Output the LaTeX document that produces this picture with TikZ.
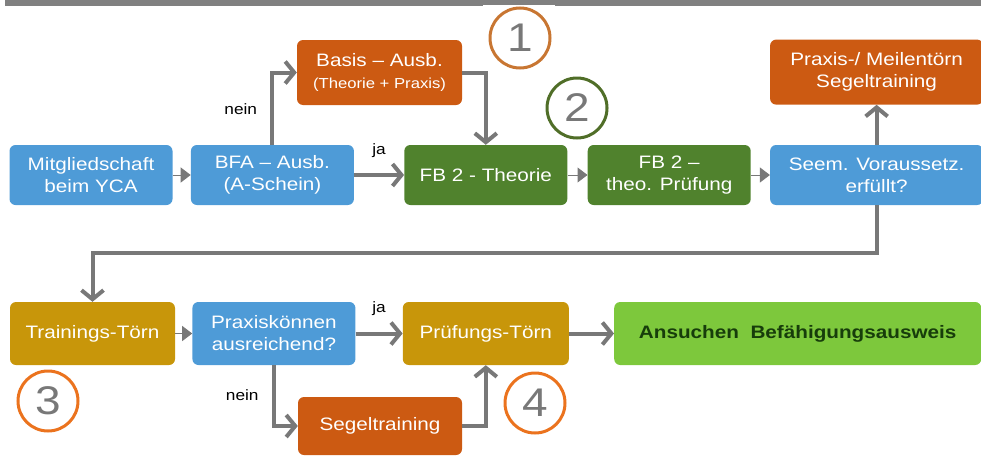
\documentclass[tikz,border=0pt]{standalone}
\usepackage{fontspec}
\setmainfont{Liberation Sans}[FakeStretch=1.15]
\usepackage{tikz}
\usetikzlibrary{positioning, arrows.meta}
\definecolor{ycaBlue}{RGB}{78,155,215}
\definecolor{ycaOrange}{RGB}{204,90,18}
\definecolor{ycaGreen}{RGB}{80,130,45}
\definecolor{ycaGold}{RGB}{200,150,10}
\definecolor{ycaLime}{RGB}{125,200,60}
\definecolor{ycaText}{RGB}{23,61,11}
\definecolor{ycaGray}{RGB}{120,120,120}
\definecolor{ycaRing}{RGB}{200,118,50}
\definecolor{ycaRingGreen}{RGB}{80,110,40}
\definecolor{ycaRingOrange}{RGB}{235,115,30}
\tikzset{>={Straight Barb[length=9pt,width=22pt]},
  box/.style={rounded corners=6pt, inner sep=0pt, align=center, text=white,
    minimum width=163pt, minimum height=60pt, font=\fontsize{18}{22}\selectfont},
  flow/.style={->, draw=ycaGray, line width=4pt},
  joint/.style={-{Triangle[length=10pt,width=15pt]}, draw=ycaGray, line width=1pt},
  label/.style={font=\fontsize{15}{15}\selectfont, text=black},
  marker/.style={circle, draw, line width=3pt, minimum size=60pt, inner sep=0pt,
    text=ycaGray, font=\fontsize{40}{40}\selectfont}}

\begin{document}
\begin{tikzpicture}[x=1pt, y=-1pt]
	\useasboundingbox (0,0) rectangle (981,458);
	\fill[gray] (5,0) rectangle (981,6);
	\fill[white] (483,5) rectangle (555,7);
	% first row
	\node[box, fill=ycaBlue] (Mitglied) at (91,175) {Mitgliedschaft\\beim YCA};
	\node[box, fill=ycaBlue, right=18pt of Mitglied] (BFA) {BFA -- Ausb.\\(A-Schein)};
	\node[box, fill=ycaOrange, minimum width=165pt, minimum height=65pt] (Basis) at (379.5,72.5)
		{Basis -- Ausb.\\{\fontsize{14.5}{18}\selectfont(Theorie + Praxis)}};
	\node[box, fill=ycaGreen, right=50pt of BFA] (Theorie) {FB 2 - Theorie};
	\node[box, fill=ycaGreen, right=20pt of Theorie] (TheoPruef) {FB 2 --\\theo. Prüfung};
	\node[box, fill=ycaBlue, minimum width=213pt, right=19pt of TheoPruef] (Seem) {Seem. Voraussetz.\\erfüllt?};
	\node[box, fill=ycaOrange, minimum width=213pt, minimum height=65pt, above=40pt of Seem] (Meilen)
		{Praxis-/ Meilentörn\\Segeltraining};
	% second row
	\node[box, fill=ycaGold, minimum width=165pt, minimum height=63pt] (Training) at (92.5,333.5) {Trainings-Törn};
	\node[box, fill=ycaBlue, minimum height=63pt, right=17pt of Training] (Praxis) {Praxiskönnen\\ausreichend?};
	\node[box, fill=ycaGold, minimum width=166pt, minimum height=63pt, right=47pt of Praxis] (PruefTorn) {Prüfungs-Törn};
	\node[box, fill=ycaLime, minimum width=367pt, minimum height=63pt, right=45pt of PruefTorn,
		text=ycaText, font=\fontsize{18}{22}\selectfont\bfseries] (Ansuchen) {Ansuchen\ \ Befähigungsausweis};
	\node[box, fill=ycaOrange, minimum width=164pt, minimum height=58pt] (Segel) at (380,426) {Segeltraining};
	% numbers
	\node[marker, draw=ycaRing] (One) at (520,38) {1};
	\node[marker, draw=ycaRingGreen] (Two) at (577,108) {2};
	\node[marker, draw=ycaRingOrange] (Three) at (48,401) {3};
	\node[marker, draw=ycaRingOrange] (Four) at (535,403) {4};
	% connections
	\draw[joint] (Mitglied) -- (BFA);
	\draw[joint] (Theorie) -- (TheoPruef);
	\draw[joint] (TheoPruef) -- (Seem);
	\draw[joint] (Training) -- (Praxis);
	\draw[flow] (BFA.north) |- node[label, pos=0.25, left=10pt]{nein} (Basis.west);
	\draw[flow] (BFA) -- node[label, above=12pt]{ja} (Theorie);
	\draw[flow] (Basis.east) -| (Theorie.north);
	\draw[flow] (Seem.north) -- (Meilen.south);
	\draw[flow] (Seem.south) -- ++(0,48) -| (Training.north);
	\draw[flow] (Praxis) -- node[label, above=13pt]{ja} (PruefTorn);
	\draw[flow] (Praxis.south) |- node[label, pos=0.25, left=10pt]{nein} (Segel.west);
	\draw[flow] (Segel.east) -| (PruefTorn.south);
	\draw[flow] (PruefTorn) -- (Ansuchen);
\end{tikzpicture}
\end{document}
